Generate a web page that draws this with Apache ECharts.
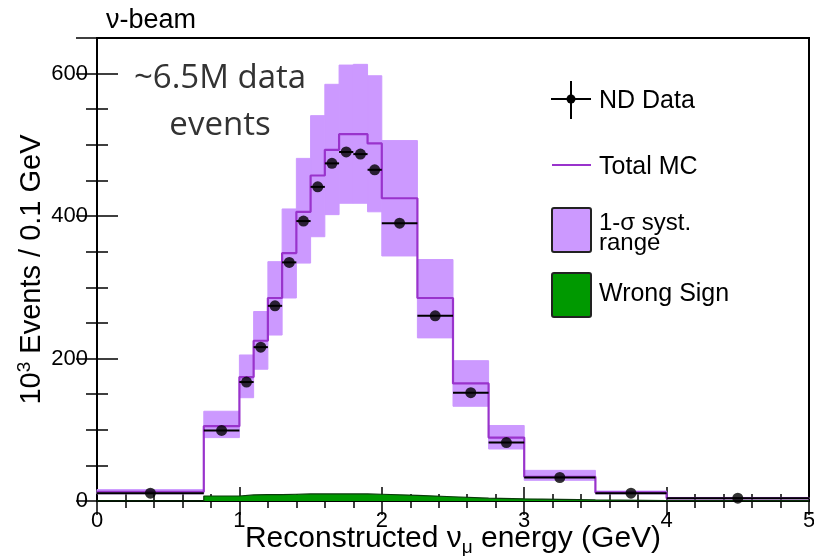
<!DOCTYPE html>
<html>
<head>
<meta charset="utf-8">
<script src="https://cdn.jsdelivr.net/npm/echarts@6/dist/echarts.min.js"></script>
<style>
  html, body { margin: 0; padding: 0; background: #fff; }
  #chart { width: 814px; height: 556px; }
</style>
</head>
<body>
<div id="chart"></div>
<script>
// Variable-width energy binning (GeV)
const binEdges = [0, 0.75, 1.0, 1.1, 1.2, 1.3, 1.4, 1.5, 1.6, 1.7, 1.8, 1.9, 2.0, 2.25, 2.5, 2.75, 3.0, 3.5, 4.0, 5.0];
// ND data, 10^3 events / 0.1 GeV
const ndData = [11, 99, 167, 216, 274, 335, 393, 441, 474, 490, 487, 465, 390, 260, 152, 82, 33, 11, 4];
// Total MC prediction
const totalMC = [13, 105, 174, 225, 285, 348, 406, 457, 493, 515, 515, 502, 425, 285, 165, 89, 34, 12, 4];
// 1-sigma systematic envelope
const systHigh = [16, 126, 205, 266, 336, 410, 481, 541, 585, 612, 613, 597, 506, 339, 197, 106, 43, 14, 5];
const systLow = [10, 89, 145, 185, 233, 285, 334, 371, 402, 418, 418, 406, 344, 229, 133, 73, 29, 10, 3];
// Wrong-sign component
const wrongSign = [0, 7, 8.5, 9, 9, 9.5, 10, 10, 10, 10, 10, 9.5, 8, 6, 4, 3, 1.5, 0.5, 0.3];

const xTickLabels = ['0', '1', '2', '3', '4', '5'];
const yTickLabels = ['0', '200', '400', '600'];

const X_MIN = 0, X_MAX = 5, Y_MIN = 0, Y_MAX = 650;
const FONT = 'Liberation Sans, Arial, sans-serif';
const MC_COLOR = '#9933cc';
const BAND_COLOR = '#cc99ff';
const WS_COLOR = '#009900';

function stepPoints(values) {
  const pts = [];
  values.forEach((v, i) => {
    pts.push([binEdges[i], v]);
    pts.push([binEdges[i + 1], v]);
  });
  return pts;
}

const bandData = systHigh.map((h, i) => [binEdges[i], binEdges[i + 1], systLow[i], h]);
const errData = ndData.map((v, i) => [binEdges[i], binEdges[i + 1], v]);
const pointData = ndData.map((v, i) => [(binEdges[i] + binEdges[i + 1]) / 2, v]);

const chart = echarts.init(document.getElementById('chart'), null, { renderer: 'canvas' });

function xAxisDef(pos, interval, tickLen, withLabels) {
  return {
    type: 'value', position: pos, min: X_MIN, max: X_MAX, interval: interval,
    axisLine: { show: false },
    splitLine: { show: false },
    axisTick: { show: true, inside: true, length: tickLen, lineStyle: { color: '#000', width: 1.5 } },
    axisLabel: withLabels ? {
      show: true, margin: 9, color: '#000', fontSize: 22, fontFamily: FONT,
      formatter: v => xTickLabels[Math.round(v)] ?? ''
    } : { show: false }
  };
}
function yAxisDef(pos, interval, tickLen, withLabels) {
  return {
    type: 'value', position: pos, min: Y_MIN, max: Y_MAX, interval: interval,
    axisLine: { show: false },
    splitLine: { show: false },
    axisTick: { show: true, inside: true, length: tickLen, lineStyle: { color: '#000', width: 1.5 } },
    axisLabel: withLabels ? {
      show: true, margin: 9, color: '#000', fontSize: 22, fontFamily: FONT,
      formatter: v => (v % 200 === 0 ? yTickLabels[v / 200] ?? '' : '')
    } : { show: false }
  };
}

const xMain = xAxisDef('bottom', 1, 14, true);
xMain.name = 'Reconstructed \u03bd{sub|\u03bc} energy (GeV)';
xMain.nameLocation = 'middle';
xMain.nameGap = 20;
xMain.nameMoveOverlap = false;
xMain.nameTextStyle = {
  color: '#000', fontSize: 30, fontFamily: FONT, lineHeight: 36,
  rich: { sub: { fontSize: 19, fontFamily: FONT, lineHeight: 10, verticalAlign: 'bottom', color: '#000' } }
};

const yMain = yAxisDef('left', 200, 21, true);
yMain.name = '10{sup|3} Events / 0.1 GeV';
yMain.nameLocation = 'middle';
yMain.nameGap = 48;
yMain.nameMoveOverlap = false;
yMain.nameTextStyle = {
  color: '#000', fontSize: 29, fontFamily: FONT, lineHeight: 34,
  rich: { sup: { fontSize: 19, fontFamily: FONT, lineHeight: 18, verticalAlign: 'top', color: '#000' } }
};

const option = {
  backgroundColor: '#fff',
  animation: false,
  grid: {
    left: 97, top: 38, width: 712, height: 463,
    show: true, borderColor: '#000', borderWidth: 2, backgroundColor: 'transparent',
    containLabel: false, outerBoundsMode: 'none'
  },
  xAxis: [
    xMain,
    xAxisDef('bottom', 0.2, 7, false),
    xAxisDef('top', 1, 14, false),
    xAxisDef('top', 0.2, 7, false)
  ],
  yAxis: [
    yMain,
    yAxisDef('left', 50, 11, false),
    yAxisDef('right', 200, 21, false),
    yAxisDef('right', 50, 11, false)
  ],
  series: [
    {
      name: '1-\u03c3 syst. range',
      type: 'custom',
      z: 1,
      data: bandData,
      renderItem: (params, api) => {
        const p0 = api.coord([api.value(0), api.value(3)]);
        const p1 = api.coord([api.value(1), api.value(2)]);
        return {
          type: 'rect',
          shape: { x: p0[0], y: p0[1], width: p1[0] - p0[0], height: p1[1] - p0[1] },
          style: { fill: BAND_COLOR, stroke: BAND_COLOR, lineWidth: 1 }
        };
      }
    },
    {
      name: 'Total MC',
      type: 'line',
      z: 2,
      data: stepPoints(totalMC),
      showSymbol: false,
      lineStyle: { color: MC_COLOR, width: 2.2 }
    },
    {
      name: 'Wrong Sign',
      type: 'line',
      z: 3,
      data: stepPoints(wrongSign),
      showSymbol: false,
      lineStyle: { color: '#0b3a0b', width: 1.2 },
      areaStyle: { color: WS_COLOR, opacity: 1 }
    },
    {
      name: 'ND Data bins',
      type: 'custom',
      z: 4,
      data: errData,
      renderItem: (params, api) => {
        const a = api.coord([api.value(0), api.value(2)]);
        const b = api.coord([api.value(1), api.value(2)]);
        return {
          type: 'line',
          shape: { x1: a[0], y1: a[1], x2: b[0], y2: b[1] },
          style: { stroke: '#000', lineWidth: 2 }
        };
      }
    },
    {
      name: 'ND Data',
      type: 'scatter',
      z: 5,
      data: pointData,
      symbol: 'circle',
      symbolSize: 11,
      itemStyle: { color: '#000' }
    }
  ],
  graphic: [
    { type: 'text', left: 106, top: 7, style: { text: '\u03bd-beam', fontSize: 27, fontFamily: FONT, fill: '#000' } },
    {
      type: 'text', x: 220, y: 55,
      style: {
        text: '~6.5M data\nevents', fontSize: 33, lineHeight: 47, fontFamily: 'Open Sans',
        fill: '#333', align: 'center', verticalAlign: 'top'
      }
    },
    // legend: ND Data
    { type: 'line', shape: { x1: 551, y1: 99, x2: 591, y2: 99 }, style: { stroke: '#000', lineWidth: 2 } },
    { type: 'line', shape: { x1: 571, y1: 81, x2: 571, y2: 119 }, style: { stroke: '#000', lineWidth: 2 } },
    { type: 'circle', shape: { cx: 571, cy: 99, r: 4.5 }, style: { fill: '#000' } },
    { type: 'text', x: 599, y: 101, style: { text: 'ND Data', fontSize: 25, fontFamily: FONT, fill: '#000', verticalAlign: 'middle' } },
    // legend: Total MC
    { type: 'line', shape: { x1: 552, y1: 165, x2: 591, y2: 165 }, style: { stroke: MC_COLOR, lineWidth: 2 } },
    { type: 'text', x: 599, y: 167, style: { text: 'Total MC', fontSize: 25, fontFamily: FONT, fill: '#000', verticalAlign: 'middle' } },
    // legend: systematic band
    { type: 'rect', shape: { x: 552, y: 208, width: 39, height: 44, r: 2 }, style: { fill: BAND_COLOR, stroke: '#222', lineWidth: 2 } },
    { type: 'text', x: 599, y: 233, style: { text: '1-\u03c3 syst.\nrange', fontSize: 24, lineHeight: 20, fontFamily: FONT, fill: '#000', verticalAlign: 'middle' } },
    // legend: wrong sign
    { type: 'rect', shape: { x: 552, y: 273, width: 39, height: 44, r: 2 }, style: { fill: WS_COLOR, stroke: '#222', lineWidth: 2 } },
    { type: 'text', x: 599, y: 294, style: { text: 'Wrong Sign', fontSize: 25, fontFamily: FONT, fill: '#000', verticalAlign: 'middle' } }
  ]
};

chart.setOption(option);
</script>
</body>
</html>
